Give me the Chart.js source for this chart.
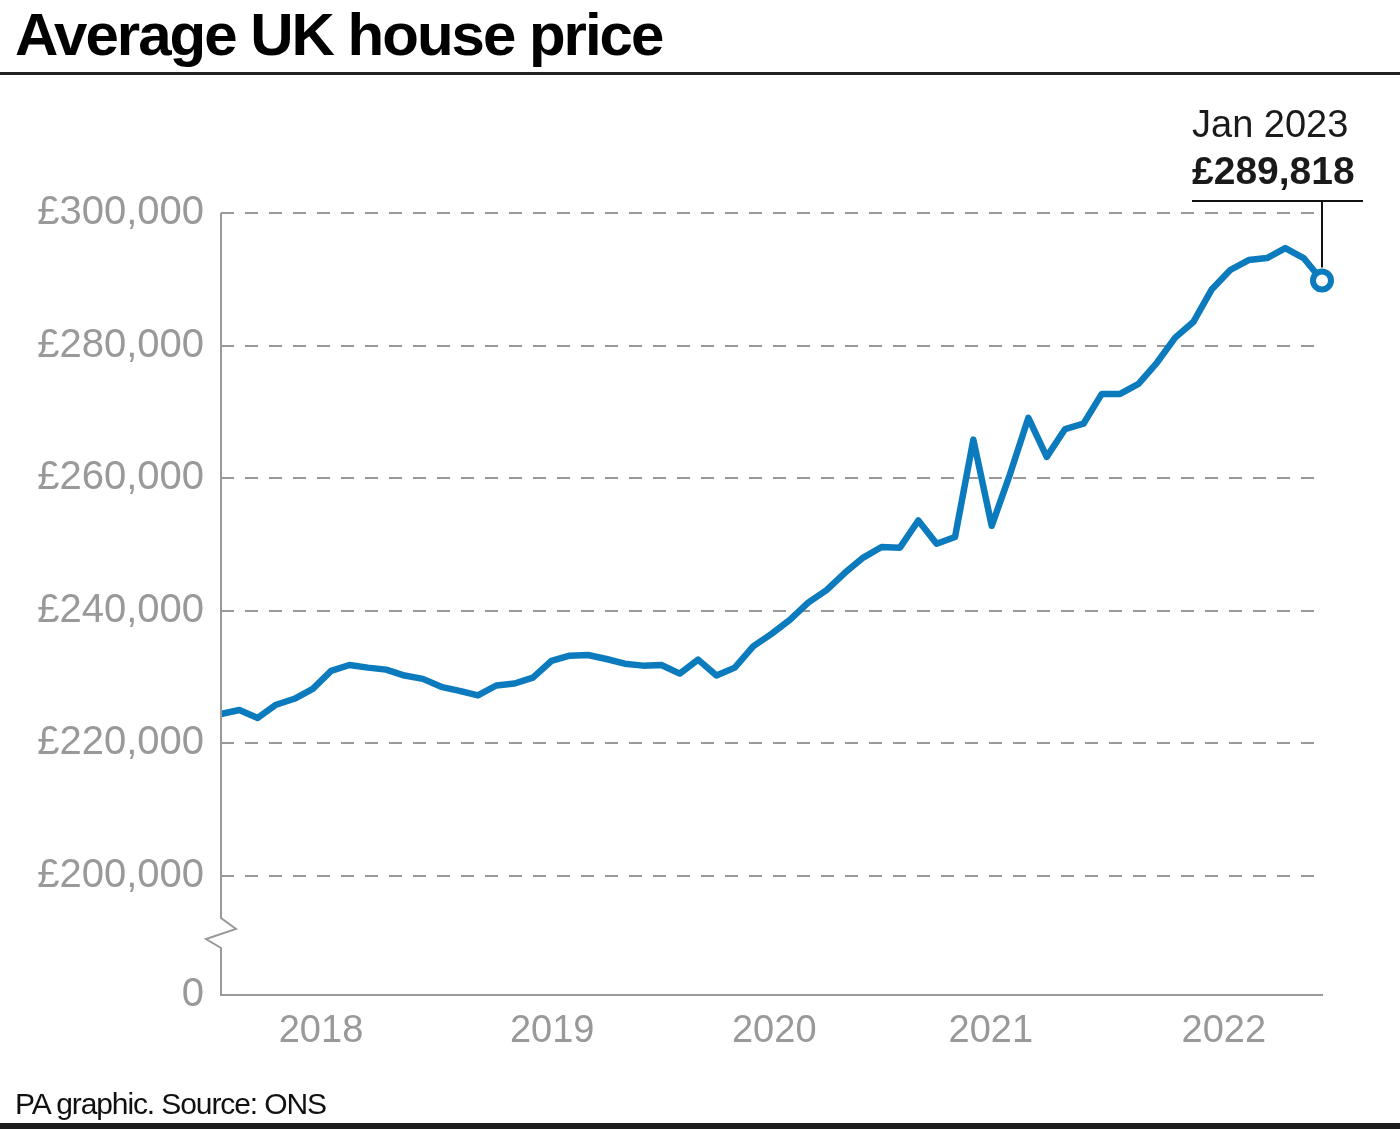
<!DOCTYPE html>
<html>
<head>
<meta charset="utf-8">
<script src="https://cdn.jsdelivr.net/npm/chart.js@4.4.1/dist/chart.umd.min.js"></script>
<style>
  html, body { margin: 0; padding: 0; background: #fff; }
  #wrap { position: relative; width: 1400px; height: 1129px; overflow: hidden; }
  #chart { position: absolute; left: 0; top: 0; }
  .title {
    position: absolute; left: 15px; top: 0; line-height: 60px;
    font: bold 60px "Liberation Sans", Arial, sans-serif; letter-spacing: -2px; color: #000;
  }
  .rule { position: absolute; left: 0; top: 72px; width: 1400px; height: 3px; background: #222; }
  .source {
    position: absolute; left: 15px; top: 1087px; line-height: 30px;
    font: 30px "Liberation Sans", Arial, sans-serif; letter-spacing: -1.1px; color: #111;
  }
  .bar { position: absolute; left: 0; top: 1123px; width: 1400px; height: 6px; background: #1c1c1c; }
</style>
</head>
<body>
<div id="wrap">
  <canvas id="chart" width="1400" height="1129"></canvas>
  <div class="title">Average UK house price</div>
  <div class="rule"></div>
  <div class="source">PA graphic. Source: ONS</div>
  <div class="bar"></div>
</div>
<script>
// monthly average price, Jan 2018 .. Jan 2023
const prices = [
  224400, 225000, 223800, 225800, 226700, 228200, 230900, 231800, 231400, 231100, 230200, 229700,
  228500, 227900, 227200, 228700, 229000, 229900, 232400, 233200, 233300, 232700, 232000, 231700,
  231800, 230500, 232600, 230200, 231400, 234600, 236500, 238600, 241200, 243100, 245700, 248000,
  249600, 249500, 253600, 250100, 251100, 265800, 252800, 260600, 269100, 263200, 267400, 268200,
  272700, 272700, 274200, 277400, 281200, 283600, 288500, 291400, 292900, 293200, 294700, 293200,
  289818
];
const monthNames = ["Jan","Feb","Mar","Apr","May","Jun","Jul","Aug","Sep","Oct","Nov","Dec"];
const months = prices.map((p, i) => monthNames[i % 12] + " " + (2018 + Math.floor(i / 12)));

const yearLabels = ["2018", "2019", "2020", "2021", "2022"];
const yearTickAt = [5.45, 18.05, 30.15, 41.95, 54.65];   // month index where each year label sits
const yTicks = [200000, 220000, 240000, 260000, 280000, 300000];
const axisFloor = 182000;   // shown as "0" below the axis break

const grey = "#999999";
const blue = "#0b7bbd";
const last = prices.length - 1;

const fmt = v => "£" + v.toLocaleString("en-GB");

const extras = {
  id: "extras",
  afterDraw(chart) {
    const ctx = chart.ctx;
    const x = chart.scales.x, y = chart.scales.y;
    const ax = x.left;
    const yTop = y.getPixelForValue(yTicks[yTicks.length - 1]);
    const yBot = y.bottom;
    const b0 = yBot - 77;
    ctx.save();
    // y axis with break
    ctx.strokeStyle = grey;
    ctx.lineWidth = 2;
    ctx.beginPath();
    ctx.moveTo(ax, yTop);
    ctx.lineTo(ax, b0);
    ctx.lineTo(ax + 15, b0 + 11);
    ctx.lineTo(ax - 15, b0 + 21);
    ctx.lineTo(ax, b0 + 30);
    ctx.lineTo(ax, yBot);
    ctx.stroke();

    // callout for the latest value
    const px = x.getPixelForValue(last);
    const py = y.getPixelForValue(prices[last]);
    const ly = 201;
    ctx.strokeStyle = "#111";
    ctx.lineWidth = 2;
    ctx.beginPath();
    ctx.moveTo(1192, ly);
    ctx.lineTo(1363, ly);
    ctx.moveTo(px, ly);
    ctx.lineTo(px, py - 13);
    ctx.stroke();

    ctx.fillStyle = "#1a1a1a";
    ctx.textAlign = "left";
    ctx.textBaseline = "alphabetic";
    ctx.font = '38px "Liberation Sans", Arial, sans-serif';
    ctx.fillText(months[last], 1192, 137);
    ctx.font = 'bold 39px "Liberation Sans", Arial, sans-serif';
    ctx.fillText(fmt(prices[last]), 1192, 184);
    ctx.restore();
  }
};

new Chart(document.getElementById("chart"), {
  type: "line",
  data: {
    datasets: [{
      data: prices.map((v, i) => ({ x: i, y: v })),
      borderColor: blue,
      borderWidth: 6.5,
      borderJoinStyle: "round",
      tension: 0,
      fill: false,
      clip: false,
      pointRadius: c => (c.dataIndex === last ? 9 : 0),
      pointBorderWidth: 6,
      pointBorderColor: blue,
      pointBackgroundColor: "#fff"
    }]
  },
  options: {
    responsive: false,
    animation: false,
    events: [],
    layout: { padding: { top: 213, right: 78, bottom: 0, left: 0 } },
    plugins: { legend: { display: false }, tooltip: { enabled: false } },
    scales: {
      x: {
        type: "linear",
        min: 0,
        max: last,
        afterFit: s => { s.height = 134; },
        afterBuildTicks: s => { s.ticks = yearTickAt.map(v => ({ value: v })); },
        grid: { display: false, drawTicks: false },
        border: { display: true, color: grey, width: 2 },
        ticks: {
          autoSkip: false,
          maxRotation: 0,
          padding: 14,
          color: grey,
          font: { family: '"Liberation Sans", Arial, sans-serif', size: 38 },
          callback: (v, i) => yearLabels[i]
        }
      },
      y: {
        min: axisFloor,
        max: 300000,
        afterFit: s => { s.width = 221; },
        afterBuildTicks: s => { s.ticks = [axisFloor].concat(yTicks).map(v => ({ value: v })); },
        grid: {
          drawTicks: false,
          color: c => (c.tick && c.tick.value === axisFloor ? "rgba(0,0,0,0)" : grey),
          lineWidth: 2
        },
        border: { display: false, dash: [13, 11] },
        ticks: {
          padding: 17,
          color: grey,
          font: { family: '"Liberation Sans", Arial, sans-serif', size: 40 },
          callback: v => (v === axisFloor ? "0" : fmt(v))
        }
      }
    }
  },
  plugins: [extras]
});
</script>
</body>
</html>
